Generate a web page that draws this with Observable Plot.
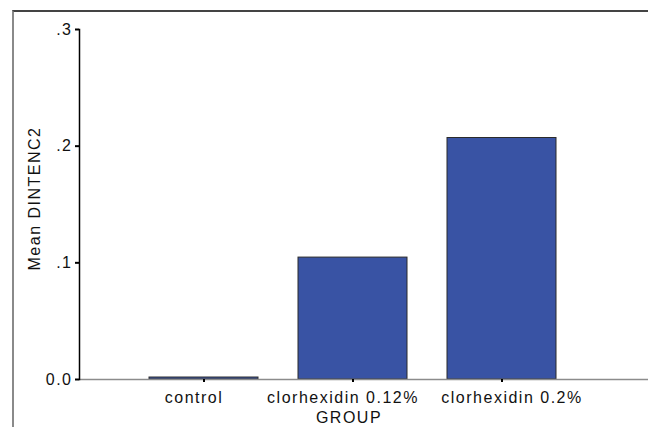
<!DOCTYPE html>
<html>
<head>
<meta charset="utf-8">
<script src="https://cdn.jsdelivr.net/npm/d3@7"></script>
<script src="https://cdn.jsdelivr.net/npm/@observablehq/plot@0.6"></script>
<style>
  html, body { margin: 0; padding: 0; background: #fff; }
  #wrap { position: relative; width: 648px; height: 427px; overflow: hidden; }
  #border { position: absolute; left: 12px; top: 10px; right: -5px; bottom: -5px;
            border-left: 2px solid #8a8a8a; border-top: 2px solid #444; pointer-events: none; }
  svg text { letter-spacing: 1.5px; }
  svg text.ylab { letter-spacing: 0.3px; }
</style>
</head>
<body>
<div id="wrap"><div id="border"></div></div>
<script>
const categories = ["control", "clorhexidin 0.12%", "clorhexidin 0.2%"];
const means = [0.0017, 0.1045, 0.207];
const yTicks = [0, 0.1, 0.2, 0.3];
const xTitle = "GROUP";
const yTitle = "Mean DINTENC2";

const data = categories.map((c, i) => ({group: c, mean: means[i]}));
const fmt = d => d === 0 ? "0.0" : d3.format(".1f")(d).replace(/^0/, "");
const font = "Liberation Sans, Arial, sans-serif";

const chart = Plot.plot({
  width: 648,
  height: 427,
  marginLeft: 79,
  marginRight: 0,
  marginTop: 29,
  marginBottom: 48,
  style: {fontFamily: font, fontSize: "16px", color: "#000", background: "transparent"},
  x: {domain: categories, range: [148, 557], paddingInner: 0.267, paddingOuter: 0},
  y: {domain: [0, 0.3]},
  marks: [
    Plot.barY(data, {x: "group", y: "mean", fill: "#3953a4", stroke: "#2b2b2b", strokeWidth: 1}),
    Plot.ruleY([0], {stroke: "#8c8c8c", strokeWidth: 1.5}),
    Plot.axisY({ticks: yTicks, tickFormat: fmt, tickSize: 4, tickPadding: 3, strokeWidth: 2, stroke: "#000", fill: "#111", fontSize: 16, label: null}),
    Plot.frame({anchor: "left", stroke: "#000", strokeWidth: 1.5}),
    Plot.axisX({tickSize: 3, strokeWidth: 2, stroke: "#000", tickFormat: () => "", label: null}),
    Plot.axisX({ticks: categories.slice(0, 2), tickSize: 0, tickPadding: 12, dx: -10, fill: "#111", fontSize: 16, label: null}),
    Plot.axisX({ticks: categories.slice(2), tickSize: 0, tickPadding: 12, dx: 10, fill: "#111", fontSize: 16, label: null}),
    Plot.text([xTitle], {frameAnchor: "bottom", dx: -15, dy: 32, lineAnchor: "top", fill: "#111", fontSize: 16}),
    Plot.text([yTitle], {frameAnchor: "left", dx: -45, dy: -6, rotate: -90, textAnchor: "middle", lineAnchor: "middle", fill: "#111", fontSize: 16, className: "ylab"})
  ]
});
document.getElementById("wrap").prepend(chart);
</script>
</body>
</html>
